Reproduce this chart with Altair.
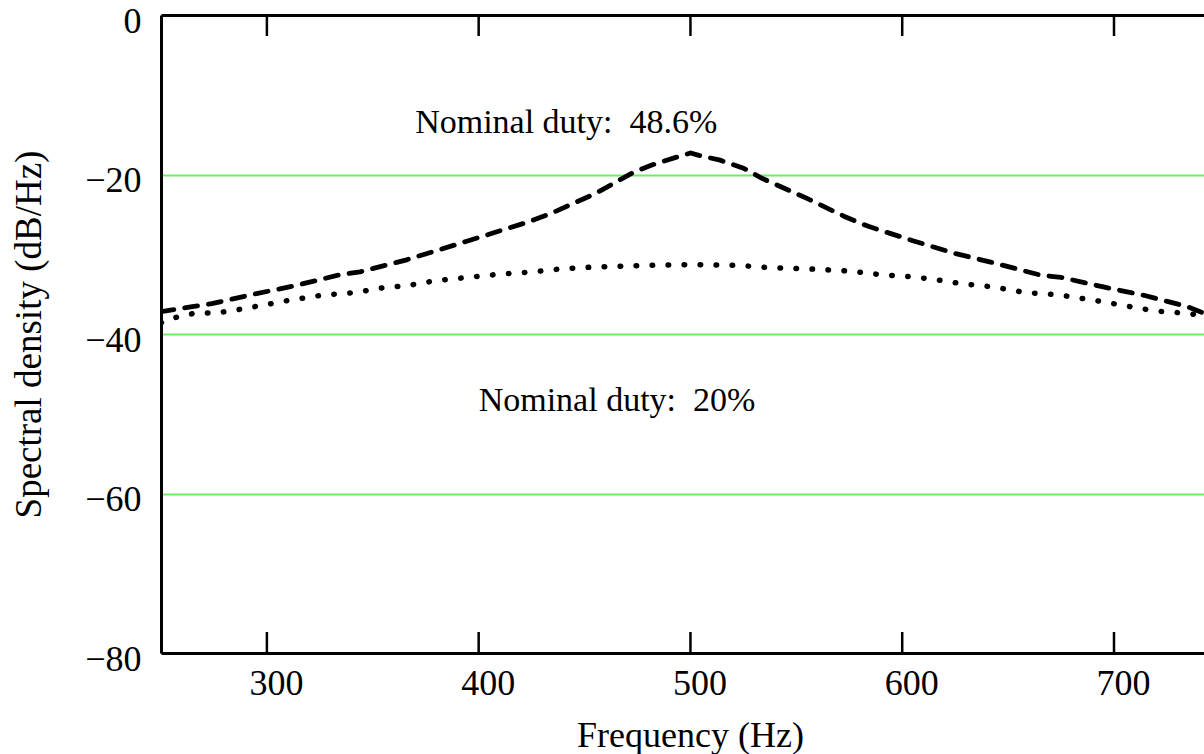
import altair as alt
import pandas as pd

# ---- data ----
freq_486 = [250, 264, 274, 294, 314, 334, 344, 366, 394, 424, 434, 455, 474, 484, 495,
            500, 504, 514, 525, 534, 555, 573, 584, 605, 625, 645, 665, 675, 695, 715, 735, 742.5]
db_486 = [-37.2, -36.6, -36.2, -35.0, -33.9, -32.6, -32.2, -30.7, -28.4, -25.9, -24.9, -22.4,
          -19.6, -18.6, -17.7, -17.3, -17.6, -18.2, -19.2, -20.5, -23.0, -25.3, -26.5, -28.3,
          -29.9, -31.2, -32.6, -32.9, -34.1, -35.2, -36.6, -37.4]

freq_20 = [250, 252, 260, 268, 275, 283, 298, 312, 327, 342, 357, 365, 380, 395, 410, 426, 440,
           455, 478, 500, 523, 538, 553, 568, 575, 591, 599, 614, 628, 643, 658, 674, 689, 704,
           719, 734, 742.5]
db_20 = [-38.6, -38.3, -37.7, -37.3, -37.4, -37.1, -36.4, -35.7, -35.1, -34.8, -34.1, -34.0,
         -33.3, -32.9, -32.5, -32.2, -31.8, -31.6, -31.4, -31.3, -31.4, -31.7, -31.8, -32.0,
         -32.1, -32.6, -32.7, -33.1, -33.7, -34.1, -34.8, -35.1, -35.7, -36.4, -37.1, -37.4, -37.7]

x_ticks = [300, 400, 500, 600, 700]
y_ticks = [-80, -60, -40, -20, 0]

ann_text = ["Nominal duty:\u00a0\u00a048.6%", "Nominal duty:\u00a0\u00a020%"]
ann_f = [370, 400]
ann_db = [-14.8, -49.7]

X_DOMAIN = [250, 742.5]
Y_DOMAIN = [-80, 0]
W, H = 1043, 638
FONT = "Liberation Serif"

df_a = pd.DataFrame({"f": freq_486, "db": db_486})
df_b = pd.DataFrame({"f": freq_20, "db": db_20})
df_t = pd.DataFrame({"t": x_ticks})
df_ann = pd.DataFrame({"text": ann_text, "f": ann_f, "db": ann_db})

xscale = alt.Scale(domain=X_DOMAIN, nice=False, zero=False)
yscale = alt.Scale(domain=Y_DOMAIN, nice=False, zero=False)

x_bottom = alt.Axis(
    orient="bottom", values=x_ticks, ticks=False, tickSize=0, grid=False,
    domain=True, domainColor="black", domainWidth=3,
    labelFont=FONT, labelFontSize=36, labelColor="black", labelBaseline="alphabetic",
    labelPadding=41, labelOffset=9, labelFlush=False, labelOverlap=False,
    title="Frequency (Hz)", titleFont=FONT, titleFontSize=36, titleFontWeight="normal",
    titleColor="black", titleX=529, titleY=93, titleBaseline="alphabetic", titleAlign="center",
)

y_left = alt.Axis(
    orient="left", values=y_ticks, ticks=False, tickSize=0,
    grid=True, gridColor="#6cee6c", gridWidth=2,
    domain=True, domainColor="black", domainWidth=3,
    labelFont=FONT, labelFontSize=36, labelColor="black", labelBaseline="alphabetic",
    labelPadding=20, labelOffset=17, labelFlush=False, labelOverlap=False,
    labelExpr="datum.value < 0 ? '\u2212' + abs(datum.value) : datum.label",
    title="Spectral density (dB/Hz)", titleFont=FONT, titleFontSize=37, titleFontWeight="normal",
    titleColor="black", titleAngle=270, titleX=-121, titleY=319,
    titleBaseline="alphabetic", titleAlign="center",
)

line_a = alt.Chart(df_a).mark_line(
    color="black", strokeWidth=4.8, strokeDash=[13, 11], strokeCap="round", clip=True
).encode(
    x=alt.X("f:Q", scale=xscale, axis=x_bottom),
    y=alt.Y("db:Q", scale=yscale, axis=y_left),
)

line_b = alt.Chart(df_b).mark_line(
    color="black", strokeWidth=5.5, strokeDash=[0.5, 15.5], strokeCap="round", clip=True
).encode(
    x=alt.X("f:Q", scale=xscale, axis=None),
    y=alt.Y("db:Q", scale=yscale),
)

ann = alt.Chart(df_ann).mark_text(
    align="left", baseline="alphabetic", font=FONT, fontSize=34, color="black"
).encode(
    x=alt.X("f:Q", scale=xscale, axis=None),
    y=alt.Y("db:Q", scale=yscale),
    text="text:N",
)

ticks_top = alt.Chart(df_t).mark_rule(color="black", strokeWidth=2.5).encode(
    x=alt.X("t:Q", scale=xscale, axis=alt.Axis(
        orient="top", labels=False, ticks=False, grid=False, title=None,
        domain=True, domainColor="black", domainWidth=3)),
    y=alt.value(0),
    y2=alt.value(21),
)

ticks_bottom = alt.Chart(df_t).mark_rule(color="black", strokeWidth=2.5).encode(
    x=alt.X("t:Q", scale=xscale, axis=None),
    y=alt.value(H - 21),
    y2=alt.value(H),
)

chart = alt.layer(line_a, line_b, ann, ticks_top, ticks_bottom).resolve_axis(
    x="independent"
).properties(
    width=W, height=H,
    autosize=alt.AutoSizeParams(type="none"),
    padding={"left": 161, "top": 15, "right": 0, "bottom": 101},
    background="white",
).configure_view(stroke=None)

chart.save("out.html", embed_options={"renderer": "svg", "actions": False})
